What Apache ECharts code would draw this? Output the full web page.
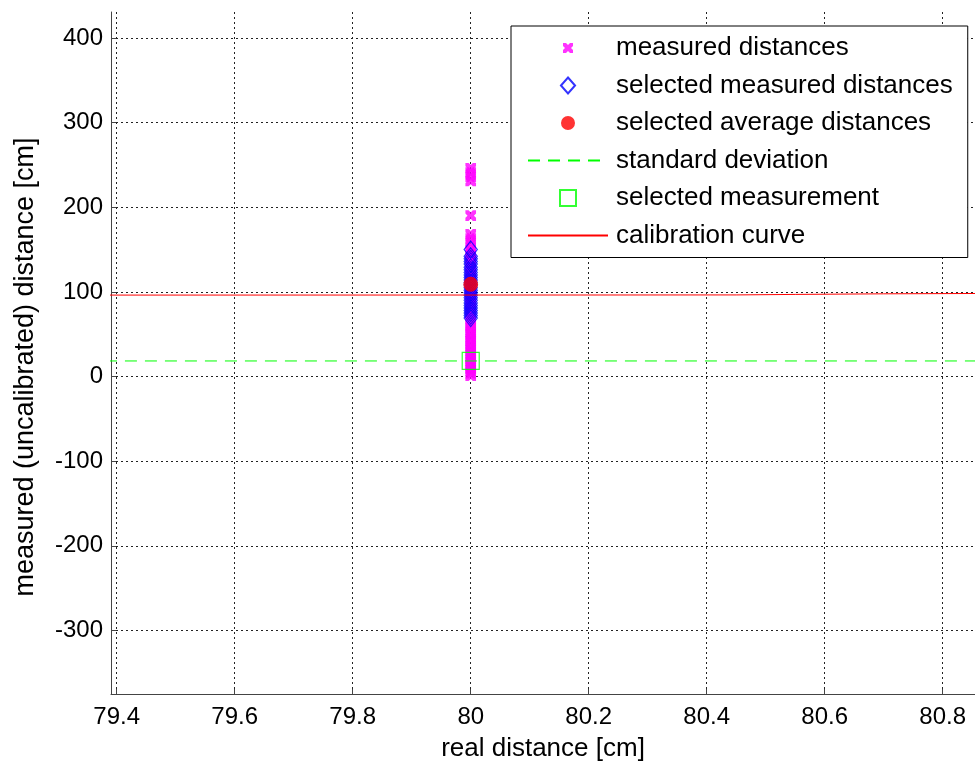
<!DOCTYPE html>
<html>
<head>
<meta charset="utf-8">
<script src="https://cdn.jsdelivr.net/npm/echarts@6/dist/echarts.min.js"></script>
<style>
html, body { margin: 0; padding: 0; background: #fff; }
#main { width: 975px; height: 767px; }
</style>
</head>
<body>
<div id="main"></div>
<script>
// real distance of the single measurement position
var realDistance = 80;

// measured distances (magenta crosses)
var measured = [246, 241, 236, 231, 190, 168, 163, 158, 152,
  148, 145, 141, 137, 134, 130, 127, 123, 120, 117, 114, 110, 107, 104, 101,
  98, 95, 92, 89, 86, 83, 80, 77, 74, 71,
  67, 63, 60, 57, 53, 50, 47, 44, 41, 37, 34, 31, 28, 25, 22, 19, 16, 13, 10, 7, 4, 1];

// selected measured distances (blue diamonds)
var selected = [150, 142, 139, 136, 133, 129, 126, 123, 120, 117, 114, 111, 108,
  105, 102, 99, 96, 93, 90, 87, 84, 81, 78, 75, 72, 69];

// selected average distance (red dot)
var average = [109];

// standard deviation (green dashed)
var stdX = [79.38, 80.86];
var stdY = [18.4, 18.4];

// selected measurement (green square)
var selMeasurement = [18.4];

// calibration curve (red line)
var calX = [79.38, 80.2, 80.45, 80.55, 80.7, 80.86];
var calY = [96.2, 96.3, 96.4, 97.0, 97.7, 98.1];

var xTicks = [79.4, 79.6, 79.8, 80, 80.2, 80.4, 80.6, 80.8];
var yTicks = [-300, -200, -100, 0, 100, 200, 300, 400];

function pairs(xs, ys) {
  var out = [];
  for (var i = 0; i < ys.length; i++) {
    out.push([Array.isArray(xs) ? xs[i] : xs, ys[i]]);
  }
  return out;
}

var font = "'Liberation Sans', Arial, Helvetica, sans-serif";
// symbols as paths so the legend keeps their aspect; the tiny corner
// sub-paths are invisible and only pad the box
var crossPath = 'path://M-3,-3L-3,-3ZM0,0L3,0L5,2L7,0L10,0L10,3L8,5L10,7L10,10L7,10L5,8L3,10L0,10L0,7L2,5L0,3Z M13,13L13,13Z';
var diamondPath = 'path://M0,-8.5L7.5,0L0,8.5L-7.5,0Z';
var dotPath = 'path://M-8,-8L-8,-8ZM-7,0A7,7,0,1,1,7,0A7,7,0,1,1,-7,0Z M8,8L8,8Z';
var squarePath = 'path://M0,0L16,0L16,16L0,16Z';

var gridLine = { show: true, lineStyle: { color: '#222', type: [2, 3], width: 1 } };
var noSymbol = { color: 'rgba(0,0,0,0)', borderWidth: 0 };

var myChart = echarts.init(document.getElementById('main'));
var option = {
  animation: false,
  backgroundColor: '#fff',
  grid: { left: 111, right: 0, top: 12, bottom: 67, containLabel: false },
  xAxis: {
    type: 'value',
    min: 79.3903,
    max: 80.8547,
    name: 'real distance [cm]',
    nameLocation: 'middle',
    nameGap: 42,
    nameTextStyle: { fontFamily: font, fontSize: 26, color: '#000' },
    axisLine: { show: true, onZero: false, lineStyle: { color: '#444', width: 1 } },
    axisTick: { show: true, inside: true, length: 5, lineStyle: { color: '#444' }, customValues: xTicks },
    axisLabel: {
      fontFamily: font, fontSize: 24, color: '#000', margin: 11,
      customValues: xTicks,
      formatter: function (v) { return String(Math.round(v * 10) / 10); }
    },
    splitLine: gridLine
  },
  yAxis: {
    type: 'value',
    min: -375,
    max: 430.6,
    name: 'measured (uncalibrated) distance [cm]',
    nameLocation: 'middle',
    nameRotate: 90,
    nameGap: 72,
    nameTextStyle: { fontFamily: font, fontSize: 27, color: '#000', padding: [0, 28, 0, 0] },
    axisLine: { show: true, onZero: false, lineStyle: { color: '#444', width: 1 } },
    axisTick: { show: true, inside: true, length: 5, lineStyle: { color: '#444' }, customValues: yTicks },
    axisLabel: { fontFamily: font, fontSize: 24, color: '#000', margin: 8, customValues: yTicks },
    splitLine: gridLine
  },
  legend: {
    orient: 'vertical',
    left: 511,
    top: 26,
    backgroundColor: '#fff',
    borderColor: '#000',
    borderWidth: 1,
    padding: [9, 15, 9, 16],
    itemWidth: 80,
    itemHeight: 16,
    itemGap: 11.5,
    textStyle: { fontFamily: font, fontSize: 26, lineHeight: 26, color: '#000', padding: [0, 0, 0, 3] },
    data: [
      { name: 'measured distances' },
      { name: 'selected measured distances' },
      { name: 'selected average distances' },
      { name: 'standard deviation', itemStyle: noSymbol },
      { name: 'selected measurement' },
      { name: 'calibration curve', itemStyle: noSymbol }
    ]
  },
  series: [
    {
      name: 'measured distances',
      type: 'scatter',
      symbol: crossPath,
      symbolSize: 17,
      symbolKeepAspect: true,
      itemStyle: { color: '#ff00ff' },
      data: pairs(realDistance, measured)
    },
    {
      name: 'selected measured distances',
      type: 'scatter',
      symbol: diamondPath,
      symbolSize: [15, 17],
      symbolKeepAspect: true,
      itemStyle: { color: 'rgba(0,0,0,0)', borderColor: '#0000ff', borderWidth: 1.2 },
      data: pairs(realDistance, selected)
    },
    {
      name: 'selected average distances',
      type: 'scatter',
      symbol: dotPath,
      symbolSize: 17,
      symbolKeepAspect: true,
      itemStyle: { color: '#ff0000' },
      data: pairs(realDistance, average)
    },
    {
      name: 'standard deviation',
      type: 'line',
      symbol: 'none',
      lineStyle: { color: '#00ff00', width: 1, type: [12, 8] },
      itemStyle: { color: '#00ff00' },
      data: pairs(stdX, stdY)
    },
    {
      name: 'selected measurement',
      type: 'scatter',
      symbol: squarePath,
      symbolSize: 17,
      symbolKeepAspect: true,
      itemStyle: { color: 'rgba(0,0,0,0)', borderColor: '#00ff00', borderWidth: 1.2 },
      data: pairs(realDistance, selMeasurement)
    },
    {
      name: 'calibration curve',
      type: 'line',
      symbol: 'none',
      lineStyle: { color: '#ff0000', width: 1 },
      itemStyle: { color: '#ff0000' },
      data: pairs(calX, calY)
    }
  ]
};
myChart.setOption(option);
</script>
</body>
</html>
